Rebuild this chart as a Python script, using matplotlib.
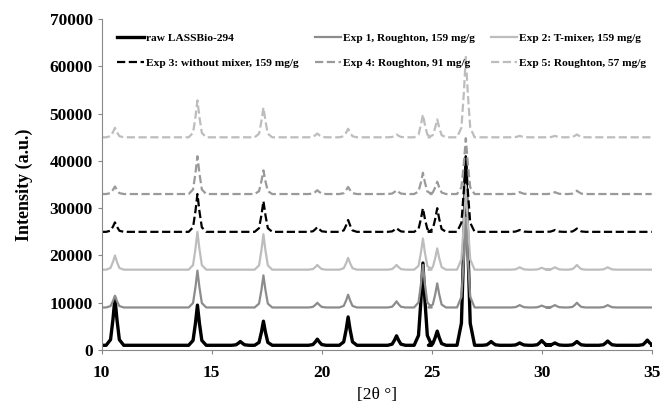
import matplotlib
matplotlib.use("Agg")
import matplotlib.pyplot as plt

plt.rcParams['font.family'] = ['Liberation Serif', 'DejaVu Serif']

# peak positions (2-theta, degrees)
peak_pos = [10.6, 14.35, 16.3, 17.35, 19.8, 21.2, 23.4, 24.6, 25.25, 26.55,
            27.7, 29.0, 30.0, 30.6, 31.6, 33.0, 34.8]

# baseline and peak-top intensities for every series (None = no visible peak)
labels = ["raw LASSBio-294", "Exp 1, Roughton, 159 mg/g", "Exp 2: T-mixer, 159 mg/g",
          "Exp 3: without mixer, 159 mg/g", "Exp 4: Roughton, 91 mg/g",
          "Exp 5: Roughton, 57 mg/g"]
baselines = [1000, 9000, 17000, 25000, 33000, 45000]
raw_tops = [11000, 9500, 1800, 6100, 2300, 7000, 3000, 18400, 4000, 40000,
            1800, 1500, 2000, 1500, 1800, 1900, 2100]
exp1_tops = [11500, 16800, None, 15800, 10000, 11700, 10300, 18000, 14100, 28000,
             None, 9500, 9400, 9500, 10000, 9500, None]
exp2_tops = [20000, 25000, None, 24500, 18000, 19500, 18000, 23600, 21500, 35000,
             None, 17500, 17400, 17500, 18000, 17500, None]
exp3_tops = [27000, 33000, None, 31500, 26000, 27500, 25800, 30000, 30000, 41000,
             None, 25400, None, 25400, 25700, None, None]
exp4_tops = [34600, 41000, None, 38000, 33800, 34500, 33800, 37500, 35600, 44800,
             None, 33400, None, 33400, 33700, None, None]
exp5_tops = [47000, 52800, None, 51300, 45800, 46800, 45600, 49800, 48800, 62000,
             None, 45300, None, 45300, 45600, None, None]
all_tops = [raw_tops, exp1_tops, exp2_tops, exp3_tops, exp4_tops, exp5_tops]

colors = ['black', '#8c8c8c', '#bdbdbd', 'black', '#9a9a9a', '#bdbdbd']
styles = ['-', '-', '-', '--', '--', '--']
widths = [2.4, 1.6, 1.6, 1.6, 1.6, 1.6]

# peak outline template (offset in degrees, fraction of peak height)
shape_dx = [-0.4, -0.2, -0.09, 0.0, 0.09, 0.2, 0.4]
shape_fr = [0.0, 0.12, 0.55, 1.0, 0.55, 0.12, 0.0]


def trace(base, tops):
    xs, ys = [10.0], [base]
    for p, top in zip(peak_pos, tops):
        if top is None:
            continue
        for dx, fr in zip(shape_dx, shape_fr):
            xs.append(p + dx)
            ys.append(base + fr * (top - base))
    xs.append(35.0)
    ys.append(base)
    return xs, ys


fig = plt.figure(figsize=(6.65, 4.07), dpi=100)
ax = fig.add_axes([0.153, 0.14, 0.827, 0.813])

handles = []
for lab, base, tops, c, ls, lw in zip(labels, baselines, all_tops, colors, styles, widths):
    xs, ys = trace(base, tops)
    h, = ax.plot(xs, ys, color=c, linestyle=ls, linewidth=lw, label=lab)
    handles.append(h)

ax.set_xlim(10, 35)
ax.set_ylim(0, 70000)
ax.set_xticks([10, 15, 20, 25, 30, 35])
ax.set_yticks(range(0, 70001, 10000))
for s in ['top', 'right']:
    ax.spines[s].set_visible(False)
for s in ['left', 'bottom']:
    ax.spines[s].set_color('#888888')
ax.tick_params(colors='#888888', length=3, labelcolor='black', labelsize=12.5)
ax.tick_params(axis='x', pad=8)
for t in ax.get_xticklabels() + ax.get_yticklabels():
    t.set_fontweight('bold')

ax.set_ylabel("Intensity (a.u.)", fontsize=13, fontweight='bold', labelpad=12)
ax.set_xlabel("[2θ °]", fontsize=12.5, labelpad=4)

order = [0, 3, 1, 4, 2, 5]
ax.legend([handles[i] for i in order], [labels[i] for i in order], ncol=3,
          loc='upper left', bbox_to_anchor=(0.01, 0.99), frameon=False,
          prop={'weight': 'bold', 'size': 8.2}, handlelength=2.3,
          handletextpad=0.2, columnspacing=1.4, labelspacing=1.35)

fig.savefig("out.png", dpi=100)
